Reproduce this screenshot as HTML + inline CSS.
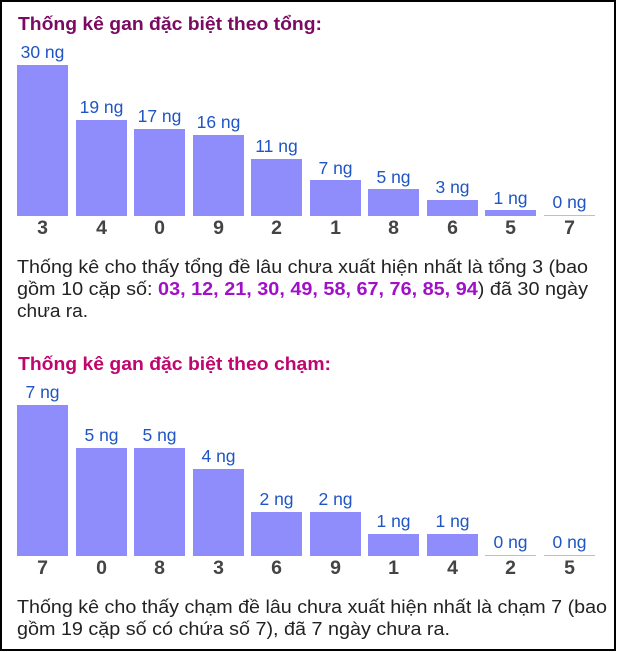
<!DOCTYPE html>
<html><head><meta charset="utf-8"><style>
html,body{margin:0;padding:0;background:#fff}
svg{display:block}
text{font-family:"Liberation Sans",Arial,sans-serif}
.v{fill:#1f55c4;font-size:17.5px;text-anchor:middle}
.c{fill:#444;font-size:19.5px;font-weight:bold;text-anchor:middle}
.p{fill:#222;font-size:18px}
.t{font-size:18px;font-weight:bold}
</style></head><body>
<svg width="617" height="652" viewBox="0 0 617 652">
<rect x="1" y="1" width="614" height="649" fill="#fff" stroke="#000" stroke-width="2"/>
<text class="t" x="18" y="30" fill="#7a0a62" textLength="304" lengthAdjust="spacingAndGlyphs">Thống kê gan đặc biệt theo tổng:</text>
<g fill="#8f8cfb">
<rect x="17" y="65" width="51" height="151"/>
<rect x="76" y="120" width="51" height="96"/>
<rect x="134" y="129" width="51" height="87"/>
<rect x="193" y="135" width="51" height="81"/>
<rect x="251" y="159" width="51" height="57"/>
<rect x="310" y="180" width="51" height="36"/>
<rect x="368" y="189" width="51" height="27"/>
<rect x="427" y="200" width="51" height="16"/>
<rect x="485" y="210" width="51" height="6"/>
<rect x="544" y="215" width="51" height="1" fill="#b9b7fc"/>
</g>
<g class="v">
<text x="42.5" y="58">30 ng</text><text x="101.5" y="113">19 ng</text><text x="159.5" y="122">17 ng</text><text x="218.5" y="128">16 ng</text><text x="276.5" y="152">11 ng</text><text x="335.5" y="174">7 ng</text><text x="393.5" y="183">5 ng</text><text x="452.5" y="193">3 ng</text><text x="510.5" y="204">1 ng</text><text x="569.5" y="208">0 ng</text>
</g>
<g class="c">
<text x="42.5" y="234">3</text><text x="101.5" y="234">4</text><text x="159.5" y="234">0</text><text x="218.5" y="234">9</text><text x="276.5" y="234">2</text><text x="335.5" y="234">1</text><text x="393.5" y="234">8</text><text x="452.5" y="234">6</text><text x="510.5" y="234">5</text><text x="569.5" y="234">7</text>
</g>
<text class="p" x="17" y="273" textLength="571" lengthAdjust="spacingAndGlyphs">Thống kê cho thấy tổng đề lâu chưa xuất hiện nhất là tổng 3 (bao</text>
<text class="p" x="17" y="295" textLength="571" lengthAdjust="spacingAndGlyphs">gồm 10 cặp số: <tspan fill="#a010c8" font-weight="bold">03, 12, 21, 30, 49, 58, 67, 76, 85, 94</tspan>) đã 30 ngày</text>
<text class="p" x="17" y="317" textLength="71" lengthAdjust="spacingAndGlyphs">chưa ra.</text>
<text class="t" x="18" y="370" fill="#c0066e" textLength="313" lengthAdjust="spacingAndGlyphs">Thống kê gan đặc biệt theo chạm:</text>
<g fill="#8f8cfb">
<rect x="17" y="405" width="51" height="151"/>
<rect x="76" y="448" width="51" height="108"/>
<rect x="134" y="448" width="51" height="108"/>
<rect x="193" y="469" width="51" height="87"/>
<rect x="251" y="512" width="51" height="44"/>
<rect x="310" y="512" width="51" height="44"/>
<rect x="368" y="534" width="51" height="22"/>
<rect x="427" y="534" width="51" height="22"/>
<rect x="485" y="555" width="51" height="1" fill="#b9b7fc"/>
<rect x="544" y="555" width="51" height="1" fill="#b9b7fc"/>
</g>
<g class="v">
<text x="42.5" y="398">7 ng</text><text x="101.5" y="441">5 ng</text><text x="159.5" y="441">5 ng</text><text x="218.5" y="462">4 ng</text><text x="276.5" y="505">2 ng</text><text x="335.5" y="505">2 ng</text><text x="393.5" y="527">1 ng</text><text x="452.5" y="527">1 ng</text><text x="510.5" y="548">0 ng</text><text x="569.5" y="548">0 ng</text>
</g>
<g class="c">
<text x="42.5" y="574">7</text><text x="101.5" y="574">0</text><text x="159.5" y="574">8</text><text x="218.5" y="574">3</text><text x="276.5" y="574">6</text><text x="335.5" y="574">9</text><text x="393.5" y="574">1</text><text x="452.5" y="574">4</text><text x="510.5" y="574">2</text><text x="569.5" y="574">5</text>
</g>
<text class="p" x="17" y="613" textLength="590" lengthAdjust="spacingAndGlyphs">Thống kê cho thấy chạm đề lâu chưa xuất hiện nhất là chạm 7 (bao</text>
<text class="p" x="17" y="635" textLength="433" lengthAdjust="spacingAndGlyphs">gồm 19 cặp số có chứa số 7), đã 7 ngày chưa ra.</text>
</svg>
</body></html>
